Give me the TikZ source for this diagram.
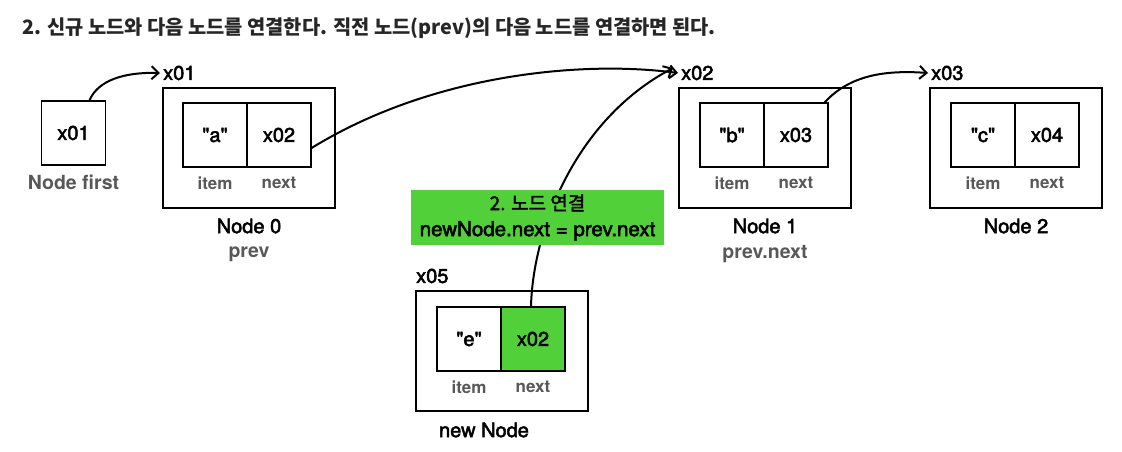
\documentclass[tikz,border=0pt]{standalone}
\usepackage{fontspec}
\setmainfont{TeX Gyre Heros}
\newfontfamily\med{TeX Gyre Heros}[FakeBold=2.5]
\newfontfamily\kr{Noto Sans CJK KR}
\newfontfamily\krmed{Noto Sans CJK KR}[FakeBold=2]
\usetikzlibrary{arrows.meta}
\definecolor{grn}{RGB}{82,208,58}
\definecolor{gtxt}{RGB}{88,88,88}
\newcommand{\qq}[1]{\textquotedbl#1\textquotedbl}
\begin{document}
\begin{tikzpicture}[x=1pt,y=-1pt,
  cell/.style={draw,line width=1.3pt,minimum width=64pt,minimum height=64pt,inner sep=0pt,font=\med\fontsize{20}{24}\selectfont},
  outer/.style={draw,line width=1.3pt,minimum width=172pt,minimum height=120pt,inner sep=0pt},
  sub/.style={font=\fontsize{17}{20}\selectfont\bfseries,text=gtxt,inner sep=0pt},
  role/.style={font=\fontsize{19.5}{22}\selectfont\bfseries,text=gtxt,inner sep=0pt},
  nname/.style={font=\med\fontsize{20}{24}\selectfont,inner sep=0pt},
  addr/.style={font=\med\fontsize{20}{24}\selectfont,inner sep=0pt,anchor=west},
  ptr/.style={line width=2pt,-{Straight Barb[length=7pt,width=13pt]}}
]
\useasboundingbox (0,0) rectangle (1122,452);

% title
\node[anchor=base west,inner sep=0pt,font=\kr\bfseries\fontsize{19.8}{22}\selectfont,text=black!85] (title) at (22,35) {2. 신규 노드와 다음 노드를 연결한다. 직전 노드(prev)의 다음 노드를 연결하면 된다.};

% first
\node[cell] (first) at (73.5,133) {x01};
\node[role] (firstlbl) at (73.5,182) {Node first};

% Node 0
\node[outer] (n0) at (249,148) {};
\node[cell] (n0i) at (215,135) {\qq{a}};
\node[cell] (n0n) at (279,135) {x02};
\node[sub] (n0il) at (215,183) {item};
\node[sub] (n0nl) at (279,183) {next};
\node[nname] (n0name) at (249,226) {Node 0};
\node[role] (n0role) at (249,254) {prev};
\node[addr] (a01) at (163,73) {x01};

% Node 1
\node[outer] (n1) at (765,148) {};
\node[cell] (n1i) at (732,135) {\qq{b}};
\node[cell] (n1n) at (796,135) {x03};
\node[sub] (n1il) at (732,183) {item};
\node[sub] (n1nl) at (796,183) {next};
\node[nname] (n1name) at (765,226) {Node 1};
\node[role] (n1role) at (765,254) {prev.next};
\node[addr] (a02) at (681,73) {x02};

% Node 2
\node[outer] (n2) at (1016,148) {};
\node[cell] (n2i) at (983,135) {\qq{c}};
\node[cell] (n2n) at (1047,135) {x04};
\node[sub] (n2il) at (983,183) {item};
\node[sub] (n2nl) at (1047,183) {next};
\node[nname] (n2name) at (1016,226) {Node 2};
\node[addr] (a03) at (931,73) {x03};

% new Node
\node[outer] (n5) at (502,351) {};
\node[cell] (n5i) at (469,339) {\qq{e}};
\node[cell,fill=grn] (n5n) at (533,339) {x02};
\node[sub] (n5il) at (469,387) {item};
\node[sub] (n5nl) at (533,387) {next};
\node[nname] (n5name) at (484,430) {new Node};
\node[addr] (a05) at (416,276) {x05};

% pointers
\draw[ptr] ([xshift=16pt]first.north) .. controls (98,80) and (125,72) .. ([xshift=-3pt]a01.west);
\draw[ptr] ([yshift=-13pt]n0n.east) .. controls (430,75) and (580,60) .. ([xshift=-3pt]a02.west);
\draw[ptr] ([xshift=-2pt]n5n.north) .. controls (533,230) and (575,120) .. ([xshift=-8pt,yshift=5pt]a02.west);
\draw[ptr] ([xshift=-4pt]n1n.north east) .. controls (850,75) and (885,70) .. ([xshift=-3pt]a03.west);

% annotation
\node[fill=grn,minimum width=253pt,minimum height=55pt,inner sep=0pt,align=center,
  font=\med\fontsize{20.5}{26}\selectfont] (note) at (537.5,217.5)
  {{\krmed\fontsize{19}{26}\selectfont 2. 노드 연결}\\newNode.next = prev.next};
\end{tikzpicture}
\end{document}
